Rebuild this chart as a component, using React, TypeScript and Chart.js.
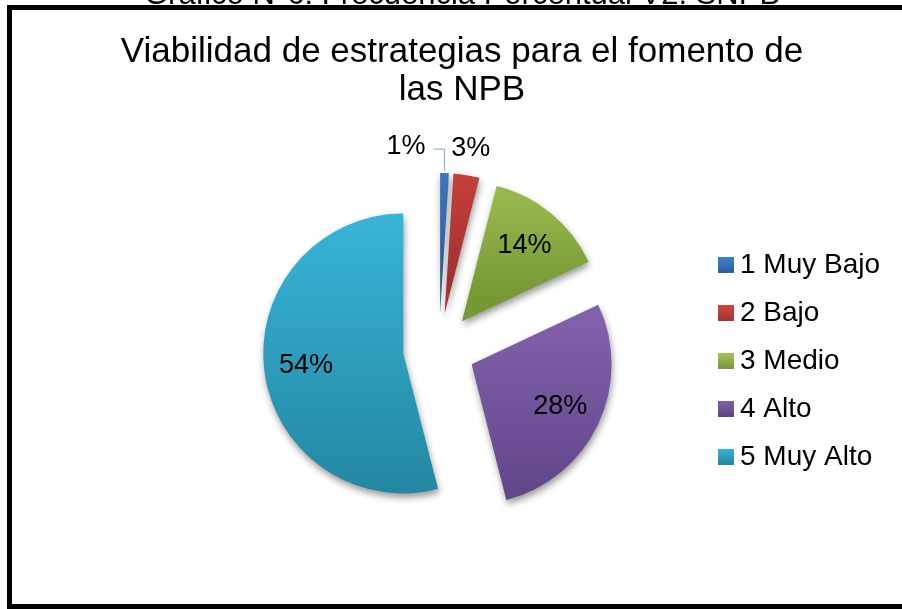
import React, { useEffect, useRef } from "react";
import { Chart, registerables } from "chart.js";

Chart.register(...registerables);

// ---- data ----
const categories = ["1 Muy Bajo", "2 Bajo", "3 Medio", "4 Alto", "5 Muy Alto"];
const percentValues = [1, 3, 14, 28, 54];
const valueLabels = ["1%", "3%", "14%", "28%", "54%"];
const chartTitle = ["Viabilidad de estrategias para el fomento de", "las NPB"];
const captionAbove = "Gráfico N°6: Frecuencia Porcentual V2. SNPB";

// ---- styles ----
const colorsTop = ["#3f80cd", "#d2433e", "#a2c455", "#8161a9", "#37b4d8"];
const colorsBottom = ["#2b5e9d", "#a33230", "#779934", "#5e4386", "#2386a0"];
const FONT = '"Liberation Sans", Arial, sans-serif';
const RADIUS = 140;
const EXPLODE = 36;

const total = () => percentValues.reduce((a, b) => a + b, 0);

// Chart.js ArcElement.draw translates by offset/4 and grows the radius by (offset/4)*fix
function arcFix(circ: number) {
  return 1 - Math.sin(Math.min(Math.PI, circ || 0));
}

function wedgeYRange(chart: any, i: number) {
  const area = chart.chartArea;
  const cx = (area.left + area.right) / 2;
  const cy = (area.top + area.bottom) / 2;
  const sum = total();
  let cum = 0;
  for (let j = 0; j < i; j++) cum += percentValues[j];
  const a0 = -Math.PI / 2 + (2 * Math.PI * cum) / sum;
  const a1 = a0 + (2 * Math.PI * percentValues[i]) / sum;
  const mid = (a0 + a1) / 2;
  const vx = cx + EXPLODE * Math.cos(mid);
  const vy = cy + EXPLODE * Math.sin(mid);
  const ys = [vy, vy + RADIUS * Math.sin(a0), vy + RADIUS * Math.sin(a1)];
  if (a0 <= Math.PI / 2 && a1 >= Math.PI / 2) ys.push(vy + RADIUS);
  if (a0 <= -Math.PI / 2 || a1 >= (3 * Math.PI) / 2) ys.push(vy - RADIUS);
  return { minY: Math.min(...ys), maxY: Math.max(...ys) };
}

// keep exploded slices at a uniform radius and their true angles
const explodeFixPlugin = {
  id: "explodeFix",
  afterDatasetsUpdate(chart: any) {
    const meta = chart.getDatasetMeta(0);
    meta.data.forEach((arc: any) => {
      const t = (arc.options.offset || 0) / 4;
      const grow = t * arcFix(arc.circumference);
      arc.outerRadius = RADIUS - grow;
      const widen = grow / Math.PI / RADIUS / 2;
      arc.startAngle = arc.startAngle - widen;
      arc.endAngle = arc.endAngle + widen;
    });
  },
};

const shadowPlugin = {
  id: "sliceShadow",
  beforeDatasetsDraw(chart: any) {
    const c = chart.ctx;
    c.save();
    c.shadowColor = "rgba(0,0,0,0.4)";
    c.shadowBlur = 7;
    c.shadowOffsetX = 1;
    c.shadowOffsetY = 4;
  },
  afterDatasetsDraw(chart: any) {
    chart.ctx.restore();
  },
};

const decorPlugin = {
  id: "decor",
  afterDraw(chart: any) {
    const c = chart.ctx as CanvasRenderingContext2D;
    c.save();
    // caption above the frame (mostly cut off)
    c.fillStyle = "#000";
    c.textAlign = "center";
    c.textBaseline = "alphabetic";
    c.font = `31px ${FONT}`;
    c.fillText(captionAbove, 462, 4);
    // title
    c.font = `35px ${FONT}`;
    c.fillText(chartTitle[0], 462, 62);
    c.fillText(chartTitle[1], 462, 100);

    // legend
    c.font = `28px ${FONT}`;
    c.textAlign = "left";
    c.textBaseline = "middle";
    categories.forEach((name, i) => {
      const y = 265 + i * 48;
      const g = c.createLinearGradient(0, y - 8, 0, y + 8);
      g.addColorStop(0, colorsTop[i]);
      g.addColorStop(1, colorsBottom[i]);
      c.fillStyle = g;
      c.fillRect(718, y - 8, 16, 16);
      c.fillStyle = "#000";
      c.fillText(name, 740, y);
    });

    // data labels
    const meta = chart.getDatasetMeta(0);
    const sum = total();
    c.font = `27px ${FONT}`;
    c.textBaseline = "middle";
    const labs = meta.data.map((arc: any, i: number) => {
      const p = arc.getProps(["x", "y", "startAngle", "endAngle", "outerRadius", "circumference"], true);
      const d = (arc.options.offset || 0) / 4;
      const r = p.outerRadius + d * arcFix(p.circumference);
      const mid = (p.startAngle + p.endAngle) / 2;
      const vx = p.x + d * Math.cos(mid);
      const vy = p.y + d * Math.sin(mid);
      const inside = percentValues[i] / sum >= 0.1;
      const k = inside ? 0.7 * r : r + 27;
      const w = c.measureText(valueLabels[i]).width;
      return {
        text: valueLabels[i],
        x: vx + k * Math.cos(mid),
        y: vy + k * Math.sin(mid),
        ox: vx + r * Math.cos(mid),
        oy: vy + r * Math.sin(mid),
        w,
        inside,
        align: "center" as CanvasTextAlign,
        leader: false,
      };
    });
    for (let i = 0; i < labs.length - 1; i++) {
      const a = labs[i];
      const b = labs[i + 1];
      if (a.inside || b.inside) continue;
      if (Math.abs(a.x - b.x) < (a.w + b.w) / 2 + 4 && Math.abs(a.y - b.y) < 27) {
        a.align = "right";
        a.x = a.ox - 19;
        a.leader = true;
      }
    }
    labs.forEach((l: any) => {
      if (l.leader) {
        c.strokeStyle = "#8db4e2";
        c.lineWidth = 1.3;
        c.beginPath();
        c.moveTo(l.ox - 11, l.y + 3);
        c.lineTo(l.ox, l.y + 3);
        c.lineTo(l.ox, l.oy - 2);
        c.stroke();
      }
      c.fillStyle = "#000";
      c.textAlign = l.align;
      c.fillText(l.text, l.x, l.y);
    });
    c.restore();
  },
};

export default function App() {
  const ref = useRef<HTMLCanvasElement>(null);

  useEffect(() => {
    if (!ref.current) return;
    const chart = new Chart(ref.current, {
      type: "pie",
      data: {
        labels: categories,
        datasets: [
          {
            data: percentValues,
            radius: RADIUS,
            borderWidth: 0,
            borderColor: "transparent",
            clip: false,
            offset: EXPLODE * 4,
            backgroundColor: (ctx: any) => {
              const i = ctx.dataIndex;
              const chart = ctx.chart;
              if (i === undefined) return colorsTop[0];
              if (!chart.chartArea) return colorsTop[i];
              const { minY, maxY } = wedgeYRange(chart, i);
              const g = chart.ctx.createLinearGradient(0, minY, 0, maxY);
              g.addColorStop(0, colorsTop[i]);
              g.addColorStop(1, colorsBottom[i]);
              return g;
            },
          } as any,
        ],
      },
      options: {
        responsive: false,
        devicePixelRatio: 1,
        animation: false,
        events: [],
        layout: { padding: { left: 239, right: 263, top: 149, bottom: 60 } },
        plugins: {
          legend: { display: false },
          title: { display: false },
          tooltip: { enabled: false },
        },
      },
      plugins: [explodeFixPlugin, shadowPlugin, decorPlugin],
    });
    return () => chart.destroy();
  }, []);

  return (
    <div
      style={{
        position: "fixed",
        left: 0,
        top: 0,
        width: 902,
        height: 609,
        overflow: "hidden",
        background: "#fff",
      }}
    >
      <div
        style={{
          position: "absolute",
          left: 7,
          top: 5,
          width: 940,
          height: 604,
          border: "5px solid #000",
          boxSizing: "border-box",
        }}
      />
      <canvas
        ref={ref}
        width={902}
        height={609}
        style={{ position: "absolute", left: 0, top: 0, width: 902, height: 609 }}
      />
    </div>
  );
}
